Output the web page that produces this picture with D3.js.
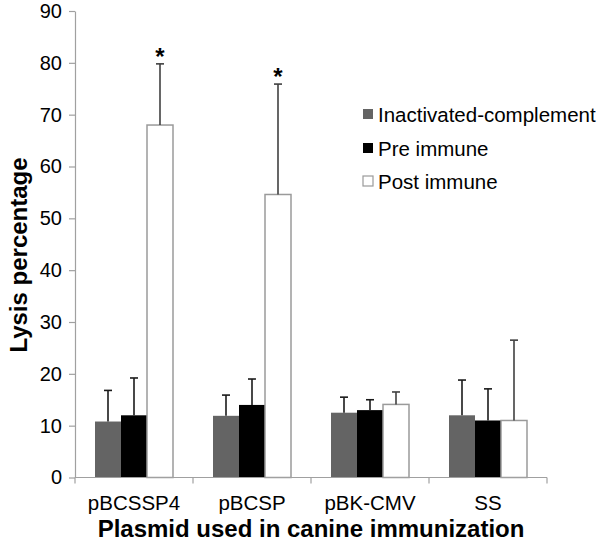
<!DOCTYPE html>
<html>
<head>
<meta charset="utf-8">
<script src="https://cdn.jsdelivr.net/npm/d3@7"></script>
<style>
  html, body { margin: 0; padding: 0; background: #fff; }
  svg { display: block; font-family: "Liberation Sans", Arial, Helvetica, sans-serif; }
</style>
</head>
<body>
<svg id="chart" width="600" height="547"></svg>
<script>
// ---- data ----
const categories = ["pBCSSP4", "pBCSP", "pBK-CMV", "SS"];
const seriesNames = ["Inactivated-complement", "Pre immune", "Post immune"];
const inactivatedValues = [10.8, 11.9, 12.5, 12.0];
const inactivatedErrors = [6.0, 4.0, 3.0, 6.8];
const preImmuneValues = [12.0, 14.0, 13.0, 11.0];
const preImmuneErrors = [7.2, 5.0, 2.0, 6.1];
const postImmuneValues = [68.0, 54.6, 14.1, 11.0];
const postImmuneErrors = [11.8, 21.3, 2.4, 15.5];
const postImmuneMarks = ["*", "*", "", ""];
const yTicks = [0, 10, 20, 30, 40, 50, 60, 70, 80, 90];

const seriesFill = ["#646464", "#000000", "#ffffff"];
const seriesStroke = ["none", "none", "#9a9a9a"];

const series = [
  { name: seriesNames[0], values: inactivatedValues, errors: inactivatedErrors, marks: ["", "", "", ""] },
  { name: seriesNames[1], values: preImmuneValues, errors: preImmuneErrors, marks: ["", "", "", ""] },
  { name: seriesNames[2], values: postImmuneValues, errors: postImmuneErrors, marks: postImmuneMarks }
];

const svg = d3.select("#chart");
const plotLeft = 75, plotRight = 547, plotTop = 11, plotBottom = 477.5;

const x0 = d3.scaleBand().domain(categories).range([plotLeft, plotRight]).paddingInner(0).paddingOuter(0);
const groupW = 78;
const x1 = d3.scaleBand().domain(seriesNames).range([0, groupW]).padding(0);
const groupOffset = (x0.bandwidth() - groupW) / 2;
const y = d3.scaleLinear().domain([0, 90]).range([plotBottom, plotTop]);

const axisColor = "#a0a0a0";

// y axis
const yAxis = svg.append("g")
  .attr("transform", `translate(${plotLeft},0)`)
  .call(d3.axisLeft(y).tickValues(yTicks).tickSize(6).tickPadding(7).tickSizeOuter(0));
yAxis.select(".domain").attr("stroke", axisColor).attr("stroke-width", 1.2);
yAxis.selectAll(".tick line").attr("stroke", axisColor).attr("stroke-width", 1.2);
yAxis.selectAll(".tick text").attr("font-size", 20).attr("fill", "#000")
  .attr("font-family", "Liberation Sans, Arial, sans-serif");

// bars
const groups = svg.append("g").selectAll("g")
  .data(categories)
  .join("g")
  .attr("transform", d => `translate(${x0(d) + groupOffset},0)`);

series.forEach((s, si) => {
  groups.append("rect")
    .attr("x", x1(s.name))
    .attr("width", x1.bandwidth())
    .attr("y", (d, i) => y(s.values[i]))
    .attr("height", (d, i) => plotBottom - y(s.values[i]))
    .attr("fill", seriesFill[si])
    .attr("stroke", seriesStroke[si])
    .attr("stroke-width", 1.5);
});

// error bars
series.forEach((s, si) => {
  const cx = x1(s.name) + x1.bandwidth() / 2;
  const col = si === 2 ? "#404040" : "#1a1a1a";
  groups.append("line")
    .attr("x1", cx).attr("x2", cx)
    .attr("y1", (d, i) => y(s.values[i]))
    .attr("y2", (d, i) => y(s.values[i] + s.errors[i]))
    .attr("stroke", col)
    .attr("stroke-width", 1.6);
  groups.append("line")
    .attr("x1", cx - 4).attr("x2", cx + 4)
    .attr("y1", (d, i) => y(s.values[i] + s.errors[i]))
    .attr("y2", (d, i) => y(s.values[i] + s.errors[i]))
    .attr("stroke", col)
    .attr("stroke-width", 1.6);
  groups.append("text")
    .attr("x", cx)
    .attr("y", (d, i) => y(s.values[i] + s.errors[i]) + 1)
    .attr("text-anchor", "middle")
    .attr("font-size", 24)
    .attr("font-weight", "bold")
    .attr("fill", "#000")
    .text((d, i) => s.marks[i]);
});

// x axis
const xAxis = svg.append("g")
  .attr("transform", `translate(0,${plotBottom})`);
xAxis.append("line").attr("x1", plotLeft).attr("x2", plotRight).attr("y1", 0).attr("y2", 0)
  .attr("stroke", axisColor).attr("stroke-width", 1.2);
const boundaries = categories.map(c => x0(c)).concat([plotRight]);
xAxis.selectAll("line.tk").data(boundaries).join("line").attr("class", "tk")
  .attr("x1", d => d).attr("x2", d => d).attr("y1", 0).attr("y2", 6)
  .attr("stroke", axisColor).attr("stroke-width", 1.2);
xAxis.selectAll("text").data(categories).join("text")
  .attr("x", d => x0(d) + x0.bandwidth() / 2)
  .attr("y", 32)
  .attr("text-anchor", "middle")
  .attr("font-size", 20.5)
  .attr("fill", "#000")
  .text(d => d);

// axis titles
svg.append("text")
  .attr("x", (plotLeft + plotRight) / 2)
  .attr("y", 537)
  .attr("text-anchor", "middle")
  .attr("font-size", 24)
  .attr("font-weight", "bold")
  .text("Plasmid used in canine immunization");

svg.append("text")
  .attr("transform", "translate(27,255) rotate(-90)")
  .attr("text-anchor", "middle")
  .attr("font-size", 24)
  .attr("font-weight", "bold")
  .text("Lysis percentage");

// legend
const legend = svg.append("g").attr("transform", "translate(363,0)");
const legendY = [114, 148, 181];
seriesNames.forEach((n, i) => {
  legend.append("rect")
    .attr("x", 0).attr("y", legendY[i] - 5).attr("width", 10).attr("height", 10)
    .attr("fill", seriesFill[i])
    .attr("stroke", seriesStroke[i]).attr("stroke-width", 1.2);
  legend.append("text")
    .attr("x", 15).attr("y", legendY[i])
    .attr("dominant-baseline", "central")
    .attr("font-size", 20.5)
    .attr("fill", "#000")
    .text(n);
});
</script>
</body>
</html>
